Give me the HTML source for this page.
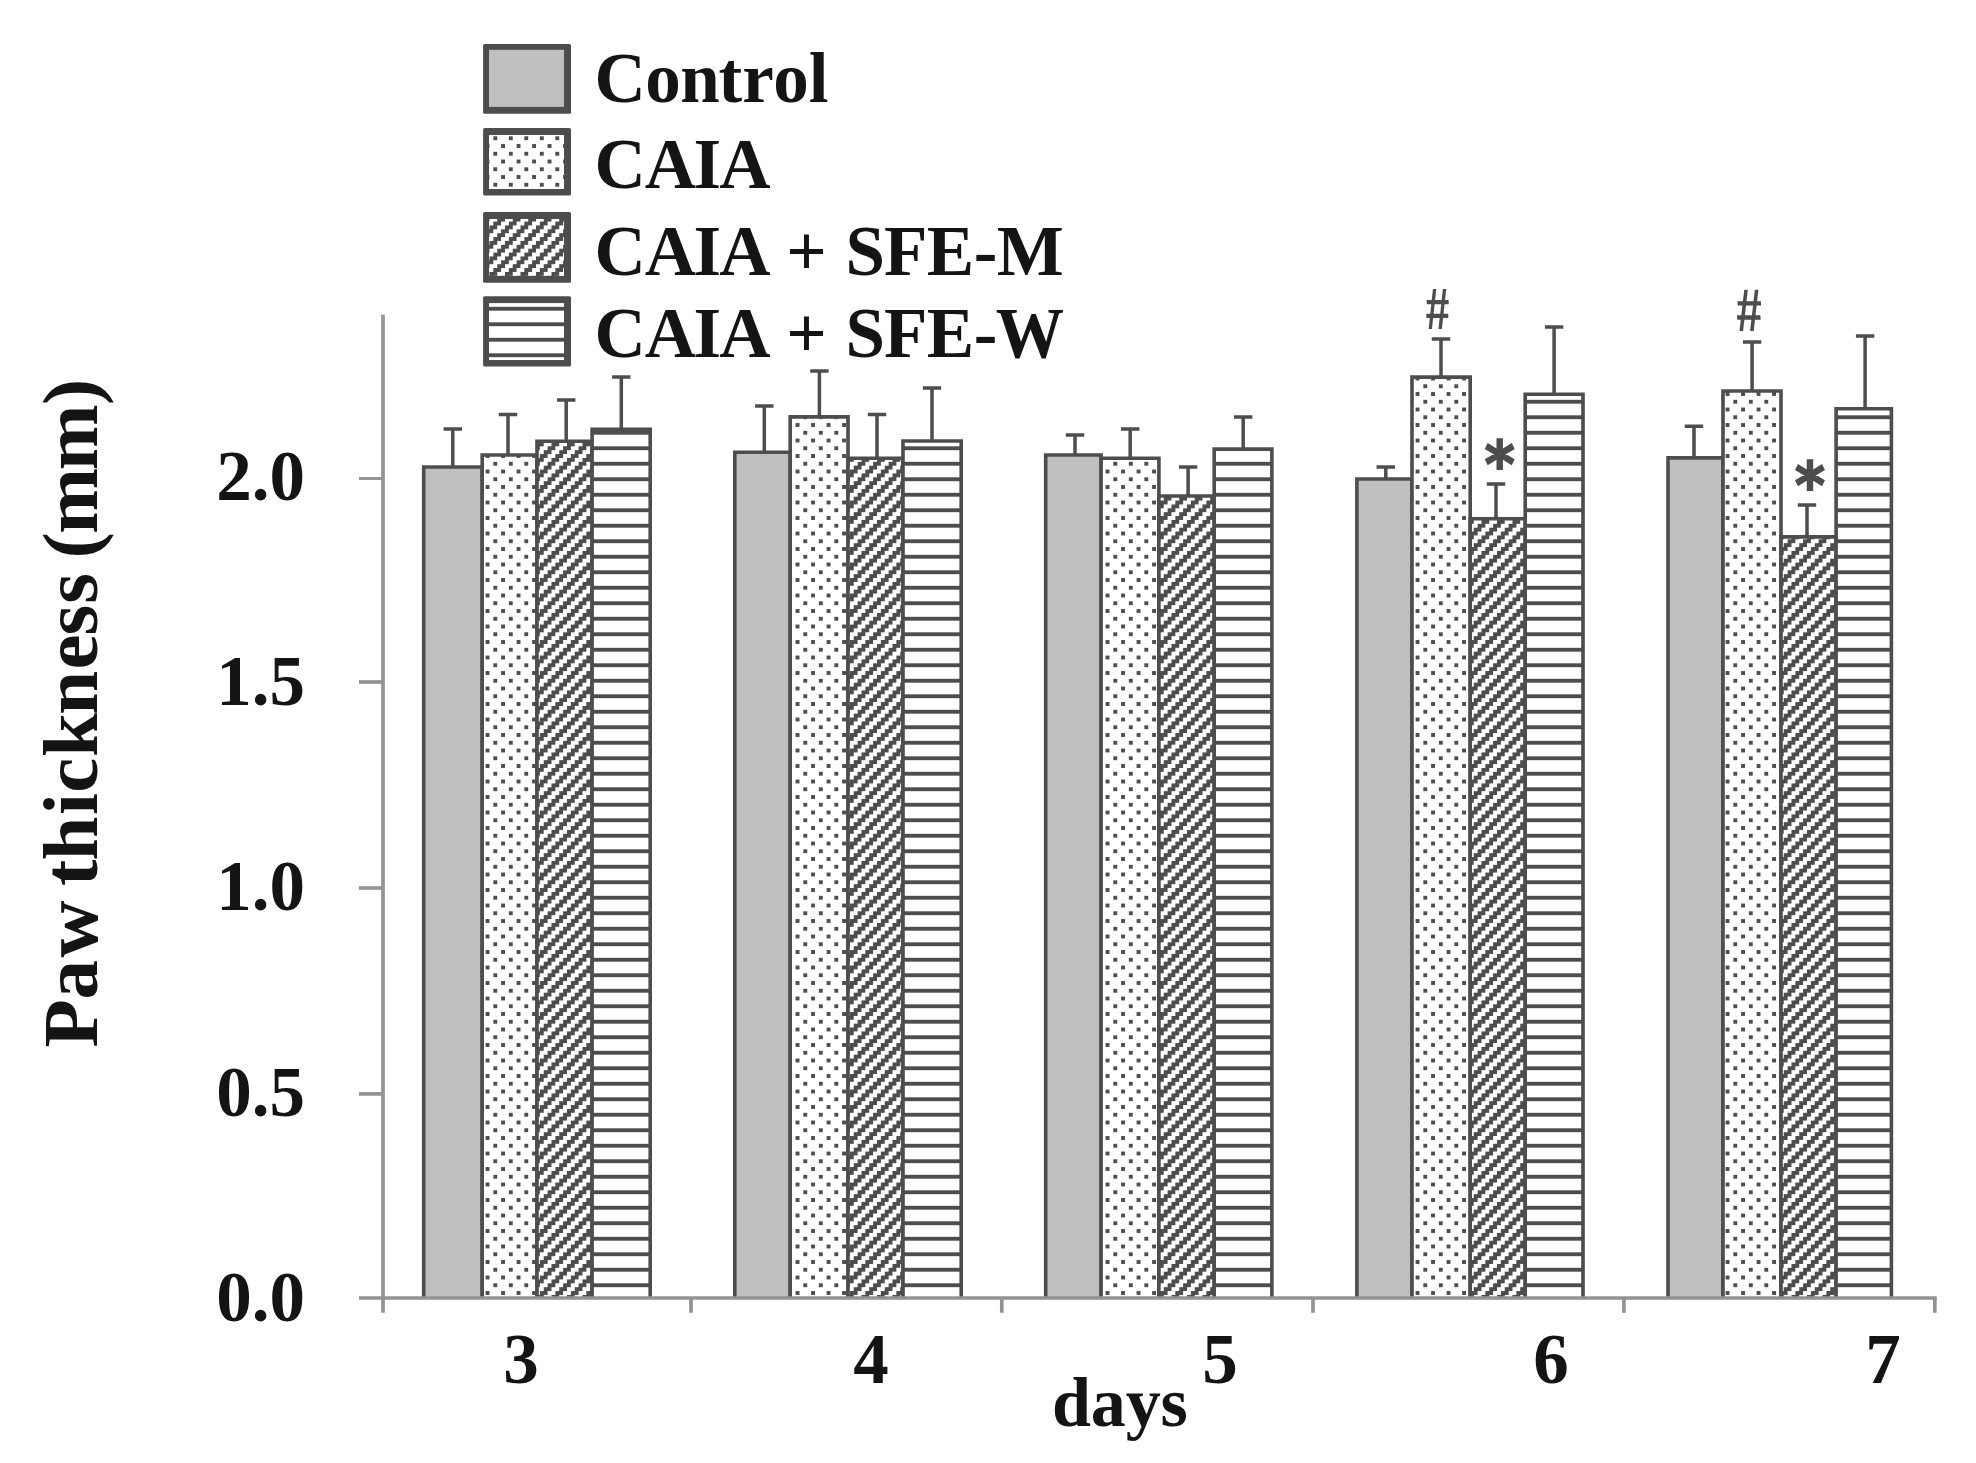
<!DOCTYPE html>
<html lang="en"><head><meta charset="utf-8"><title>Paw thickness</title>
<style>html,body{margin:0;padding:0;background:#fff}body{width:1976px;height:1463px;overflow:hidden}svg{display:block}</style>
</head><body>
<svg width="1976" height="1463" viewBox="0 0 1976 1463">
<defs>
<pattern id="pd" patternUnits="userSpaceOnUse" x="12.860" y="12.310" width="15.5" height="15.5">
<rect width="15.5" height="15.5" fill="#fff"/>
<rect x="0" y="0" width="3.875" height="3.875" fill="#4d4d4d"/>
<rect x="7.75" y="7.75" width="3.875" height="3.875" fill="#4d4d4d"/>
</pattern>
<pattern id="pg" patternUnits="userSpaceOnUse" x="12.860" y="4.560" width="15.5" height="15.5">
<rect width="15.5" height="15.5" fill="#fff"/>
<rect x="0" y="0" width="7.75" height="3.875" fill="#4d4d4d"/>
<rect x="0" y="3.875" width="3.875" height="3.875" fill="#4d4d4d"/>
<rect x="11.625" y="3.875" width="3.875" height="3.875" fill="#4d4d4d"/>
<rect x="7.75" y="7.75" width="7.75" height="3.875" fill="#4d4d4d"/>
<rect x="3.875" y="11.625" width="7.75" height="3.875" fill="#4d4d4d"/>
</pattern>
<pattern id="ph" patternUnits="userSpaceOnUse" x="0" y="12.310" width="15.5" height="15.5">
<rect width="15.5" height="15.5" fill="#fff"/>
<rect x="0" y="0" width="15.5" height="3.875" fill="#4d4d4d"/>
</pattern>
</defs>
<rect width="1976" height="1463" fill="#fff"/>
<g stroke="#4d4d4d" stroke-width="3.6" stroke-linejoin="miter">
<path d="M423.7 1298.0V467.0H482.2V1298.0" fill="#bfbfbf"/>
<path d="M482.2 1298.0V455.0H537.0V1298.0" fill="url(#pd)"/>
<path d="M537.0 1298.0V441.3H592.1V1298.0" fill="url(#pg)"/>
<path d="M592.1 1298.0V429.2H650.2V1298.0" fill="url(#ph)"/>
<path d="M734.8 1298.0V452.2H790.2V1298.0" fill="#bfbfbf"/>
<path d="M790.2 1298.0V416.9H848.0V1298.0" fill="url(#pd)"/>
<path d="M848.0 1298.0V458.2H903.0V1298.0" fill="url(#pg)"/>
<path d="M903.0 1298.0V441.0H961.2V1298.0" fill="url(#ph)"/>
<path d="M1045.7 1298.0V455.0H1101.1V1298.0" fill="#bfbfbf"/>
<path d="M1101.1 1298.0V458.2H1158.9V1298.0" fill="url(#pd)"/>
<path d="M1158.9 1298.0V496.0H1214.2V1298.0" fill="url(#pg)"/>
<path d="M1214.2 1298.0V449.1H1271.9V1298.0" fill="url(#ph)"/>
<path d="M1356.9 1298.0V479.0H1412.0V1298.0" fill="#bfbfbf"/>
<path d="M1412.0 1298.0V377.1H1470.2V1298.0" fill="url(#pd)"/>
<path d="M1470.2 1298.0V518.7H1525.2V1298.0" fill="url(#pg)"/>
<path d="M1525.2 1298.0V394.2H1583.0V1298.0" fill="url(#ph)"/>
<path d="M1668.0 1298.0V457.9H1723.0V1298.0" fill="#bfbfbf"/>
<path d="M1723.0 1298.0V391.0H1781.0V1298.0" fill="url(#pd)"/>
<path d="M1781.0 1298.0V536.9H1836.1V1298.0" fill="url(#pg)"/>
<path d="M1836.1 1298.0V408.8H1891.4V1298.0" fill="url(#ph)"/>
</g>
<g stroke="#4d4d4d" stroke-width="3.5" fill="none">
<path d="M443.6 429.0H462.0M452.8 429.0V467.0"/>
<path d="M498.8 414.5H517.2M508.0 414.5V455.0"/>
<path d="M557.0 399.9H575.4M566.2 399.9V441.3"/>
<path d="M612.1 377.0H630.5M621.3 377.0V429.2"/>
<path d="M755.1 406.0H773.5M764.3 406.0V452.2"/>
<path d="M810.2 371.0H828.6M819.4 371.0V416.9"/>
<path d="M867.8 414.5H886.2M877.0 414.5V458.2"/>
<path d="M922.8 388.0H941.2M932.0 388.0V441.0"/>
<path d="M1065.8 434.9H1084.2M1075.0 434.9V455.0"/>
<path d="M1121.0 429.0H1139.4M1130.2 429.0V458.2"/>
<path d="M1178.9 467.0H1197.3M1188.1 467.0V496.0"/>
<path d="M1234.0 416.9H1252.4M1243.2 416.9V449.1"/>
<path d="M1376.6 467.1H1395.0M1385.8 467.1V479.0"/>
<path d="M1431.8 338.9H1450.2M1441.0 338.9V377.1"/>
<path d="M1486.8 484.1H1505.2M1496.0 484.1V518.7"/>
<path d="M1544.9 327.0H1563.3M1554.1 327.0V394.2"/>
<path d="M1684.8 426.2H1703.2M1694.0 426.2V457.9"/>
<path d="M1742.9 341.9H1761.3M1752.1 341.9V391.0"/>
<path d="M1797.8 505.0H1816.2M1807.0 505.0V536.9"/>
<path d="M1855.9 335.9H1874.3M1865.1 335.9V408.8"/>
</g>
<g stroke="#939393" stroke-width="3.7" fill="none">
<path d="M383 314.8V1312.8"/>
<path d="M359 1298.0H1936.7"/>
<path d="M359 1093.9H383" stroke-width="3.7"/>
<path d="M359 888.0H383" stroke-width="3.6"/>
<path d="M359 682.0H383" stroke-width="3.7"/>
<path d="M359 478.5H383" stroke-width="2.9"/>
<path d="M691.0 1298.0V1312.8"/>
<path d="M1001.8 1298.0V1312.8"/>
<path d="M1313.0 1298.0V1312.8"/>
<path d="M1623.9 1298.0V1312.8"/>
<path d="M1934.8 1298.0V1312.8"/>
</g>
<rect x="483.1" y="44.1" width="87.9" height="69.7" rx="1.6" fill="#4d4d4d"/>
<rect x="489" y="49.8" width="75" height="57.1" fill="#bfbfbf"/>
<rect x="483.1" y="128.1" width="87.9" height="67.5" rx="1.6" fill="#4d4d4d"/>
<rect x="489" y="135.0" width="75" height="54.0" fill="url(#pd)"/>
<rect x="483.1" y="212.1" width="87.9" height="70.7" rx="1.6" fill="#4d4d4d"/>
<rect x="489" y="219.0" width="75" height="56.9" fill="url(#pg)"/>
<rect x="483.1" y="296.2" width="87.9" height="70.3" rx="1.6" fill="#4d4d4d"/>
<rect x="489" y="303.1" width="75" height="56.9" fill="url(#ph)"/>
<g font-family="'Liberation Serif','DejaVu Serif',serif" font-weight="bold" font-size="71" fill="#141414">
<text x="594.5 645.3 680.3 718.6 742.2 773.3 808.8" y="102.1">Control</text>
<text x="594.5 644.8 693.5 719.2" y="188.1">CAIA</text>
<text x="594.5 644.8 693.5 719.2 768.0 786.3 826.0 845.5 884.0 926.8 973.7 996.8" y="274.9">CAIA + SFE-M</text>
<text x="594.5 644.8 693.5 719.2 768.0 786.3 826.0 845.5 884.0 926.8 973.7 995.8" y="356.9">CAIA + SFE-<tspan textLength="68.2" lengthAdjust="spacingAndGlyphs">W</tspan></text>
<text x="305" y="1320.6" text-anchor="end">0.0</text>
<text x="305" y="1116.2" text-anchor="end">0.5</text>
<text x="305" y="910.0" text-anchor="end">1.0</text>
<text x="305" y="705.0" text-anchor="end">1.5</text>
<text x="305" y="500.3" text-anchor="end">2.0</text>
<text x="521" y="1383.3" text-anchor="middle">3</text>
<text x="871" y="1383.3" text-anchor="middle">4</text>
<text x="1220" y="1383.3" text-anchor="middle">5</text>
<text x="1551" y="1383.3" text-anchor="middle">6</text>
<text x="1883" y="1383.3" text-anchor="middle">7</text>
<text x="1119.8" y="1425.8" text-anchor="middle" font-size="70" letter-spacing="-0.2">days</text>
</g>
<text font-family="'Liberation Serif','DejaVu Serif',serif" font-weight="bold" font-size="79" fill="#141414" x="0.0 48.1 90.0 144.3 161.5 187.1 232.4 254.7 290.6 332.8 378.1 412.1 443.7 471.3 488.9 513.8 577.2 642.4" y="0" transform="translate(97.4 1047.5) rotate(-90)">Paw thickness (mm)</text>
<g font-family="'Liberation Sans',sans-serif" font-weight="bold" fill="#4d4d4d" font-size="58.7">
<text transform="translate(1426.3 328.9) skewX(2.9) scale(0.75 1)">#</text>
<text transform="translate(1737 330.9) skewX(2.9) scale(0.80 1.03)">#</text>
</g>
<g font-family="'DejaVu Sans Mono',monospace" font-weight="bold" fill="#4d4d4d" stroke="#4d4d4d" stroke-width="1.8" stroke-linejoin="miter" font-size="63.6">
<text transform="translate(1482.6 486.8) scale(0.903 1)">*</text>
<text transform="translate(1792.8 508.4) scale(0.903 1)">*</text>
</g>
</svg>
</body></html>
